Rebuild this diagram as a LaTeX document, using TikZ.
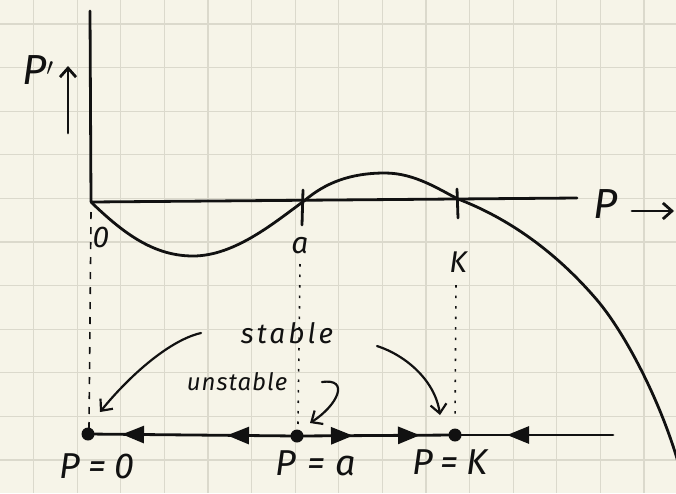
\documentclass[tikz,border=0pt]{standalone}
\usepackage{fontspec}
\setmainfont{Fira Sans}
\usetikzlibrary{arrows.meta,decorations.markings}
\definecolor{paper}{HTML}{F6F4E8}
\definecolor{gridc}{HTML}{DBD9CC}
\definecolor{ink}{HTML}{111111}
\begin{document}
\begin{tikzpicture}[x=1pt,y=-1pt,
  inkline/.style={draw=ink,line width=2.8pt,line cap=round,line join=round},
  thin/.style={draw=ink,line width=2.2pt,line cap=round,line join=round},
  barb/.style={-{Straight Barb[length=9pt,width=16pt]}},
  dot/.style={circle,fill=ink,inner sep=0pt,minimum size=13pt},
  lab/.style={text=ink,font=\fontsize{30}{30}\selectfont\itshape,inner sep=0pt},
  big/.style={text=ink,font=\fontsize{36}{36}\selectfont\itshape\addfontfeatures{LetterSpace=#1},inner sep=0pt},
  small/.style={text=ink,font=\fontsize{28}{28}\selectfont\itshape\addfontfeatures{LetterSpace=11},inner sep=0pt},
  tri/.style={postaction={decorate},decoration={markings,#1}},
  tri/.default={}
]
\useasboundingbox (0,0) rectangle (676,493);
\fill[paper] (0,0) rectangle (676,493);
\foreach \i in {0,...,14} \draw[gridc,line width=1.2pt] (33.5+43.6*\i,0) -- (33.5+43.6*\i,493);
\foreach \j in {0,...,10} \draw[gridc,line width=1.2pt] (0,24+43.6*\j) -- (676,24+43.6*\j);

% axes
\coordinate (O) at (91,202);
\coordinate (ytop) at (90,11);
\coordinate (xend) at (577,198);
\draw[inkline] (ytop) -- (O) -- (xend);
\node[lab,font=\fontsize{42}{42}\selectfont\itshape] (Plab) at (606,204) {P};
\coordinate (xa1) at (632,211); \coordinate (xa2) at (674,211);
\draw[inkline,barb] (xa1) -- (xa2);
\node[lab,font=\fontsize{42}{42}\selectfont\itshape] (Pp) at (38,70) {P$'$};
\coordinate (ya1) at (68,133); \coordinate (ya2) at (68,66);
\draw[inkline,barb] (ya1) -- (ya2);

% curve
\draw[inkline] (91,202) .. controls (125,235) and (155,256) .. (193,256)
  .. controls (235,256) and (275,222) .. (304,201)
  .. controls (325,183) and (350,173) .. (385,173)
  .. controls (415,173) and (440,190) .. (458,199)
  .. controls (500,215) and (550,245) .. (597,300)
  .. controls (625,333) and (660,400) .. (678,462);

% ticks
\coordinate (ta1) at (303,190); \coordinate (ta2) at (302,225);
\draw[inkline] (ta1) -- (ta2);
\coordinate (tk1) at (457,189); \coordinate (tk2) at (458,218);
\draw[inkline] (tk1) -- (tk2);

% axis labels
\node[lab] (l0) at (101,237) {0};
\node[lab] (la) at (300,246) {a};
\node[lab] (lK) at (458,262) {K};

% phase line
\node[dot] (p0) at (88,434) {};
\node[dot] (pa) at (297,436) {};
\node[dot] (pk) at (455,435) {};
\coordinate (pend) at (613,435);
\tikzset{tritip/.tip={Triangle[length=22pt,width=17pt]}}
\draw[inkline,tri={mark=at position 70pt with {\arrow{tritip}},mark=at position 175pt with {\arrow{tritip}}}] (pa.center) -- (p0.center);
\draw[inkline,tri={mark=at position 56pt with {\arrow{tritip}},mark=at position 123pt with {\arrow{tritip}}}] (pa.center) -- (pk.center);
\draw[inkline,tri={mark=at position 106pt with {\arrow{tritip}}}] (pend) -- (pk.center);

% dashed guide lines
\coordinate (g0a) at (91,212); \coordinate (g0b) at (89,428);
\draw[ink,line width=1.6pt,dash pattern=on 7pt off 8pt] (g0a) -- (g0b);
\coordinate (gaa) at (300,264); \coordinate (gab) at (298,425);
\draw[ink,line width=1.6pt,dash pattern=on 2.5pt off 8pt] (gaa) -- (gab);
\coordinate (gka) at (456,285); \coordinate (gkb) at (455,420);
\draw[ink,line width=1.6pt,dash pattern=on 2.5pt off 8pt] (gka) -- (gkb);

% phase labels
\node[big=22] (L0) at (97,466) {P=0};
\node[big=30] (La) at (316,463) {P=a};
\node[big=22] (LK) at (450,462) {P=K};

% stable / unstable
\node[small] (st) at (287,333) {stable};
\node[small,font=\fontsize{24}{24}\selectfont\itshape\addfontfeatures{LetterSpace=4}] (un) at (237,382) {unstable};
\coordinate (s1a) at (201,333); \coordinate (s1b) at (100,412);
\draw[thin,barb] (s1a) .. controls (170,340) and (130,375) .. (s1b);
\coordinate (s2a) at (377,346); \coordinate (s2b) at (440,415);
\draw[thin,barb] (s2a) .. controls (405,355) and (435,380) .. (s2b);
\coordinate (u1a) at (322,382); \coordinate (u1b) at (310,423);
\draw[thin,barb] (u1a) .. controls (350,378) and (338,405) .. (u1b);
\end{tikzpicture}
\end{document}
